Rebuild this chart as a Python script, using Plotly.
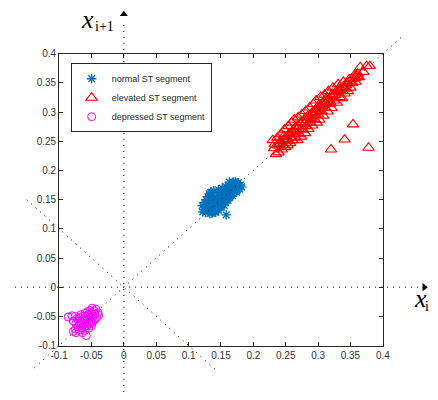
import plotly.graph_objects as go

# ---------------- data ----------------
normal_x = [0.121, 0.123, 0.125, 0.126, 0.128, 0.129, 0.130, 0.131, 0.133, 0.133,
            0.134, 0.135, 0.137, 0.137, 0.138, 0.139, 0.140, 0.141, 0.142, 0.143,
            0.144, 0.145, 0.146, 0.147, 0.148, 0.149, 0.150, 0.151, 0.152, 0.153,
            0.154, 0.155, 0.156, 0.157, 0.158, 0.158, 0.159, 0.160, 0.161, 0.162,
            0.163, 0.164, 0.165, 0.166, 0.167, 0.168, 0.169, 0.170, 0.171, 0.172,
            0.173, 0.174, 0.175, 0.176, 0.177, 0.178, 0.180, 0.182, 0.132, 0.135,
            0.137, 0.130, 0.142, 0.148, 0.153, 0.160, 0.165, 0.170,
            0.122, 0.127, 0.131, 0.136, 0.140, 0.144, 0.149, 0.155, 0.161, 0.168,
            0.174, 0.179, 0.134, 0.139, 0.146, 0.152, 0.157, 0.163]
normal_y = [0.140, 0.133, 0.145, 0.128, 0.138, 0.148, 0.132, 0.143, 0.126, 0.153,
            0.137, 0.147, 0.130, 0.156, 0.141, 0.151, 0.134, 0.145, 0.128, 0.155,
            0.139, 0.149, 0.132, 0.160, 0.143, 0.153, 0.137, 0.147, 0.157, 0.141,
            0.163, 0.151, 0.145, 0.167, 0.124, 0.156, 0.149, 0.170, 0.160, 0.153,
            0.174, 0.164, 0.157, 0.177, 0.168, 0.161, 0.180, 0.171, 0.164, 0.181,
            0.175, 0.167, 0.178, 0.170, 0.179, 0.174, 0.175, 0.172, 0.160, 0.163,
            0.156, 0.155, 0.136, 0.140, 0.145, 0.152, 0.160, 0.166,
            0.129, 0.150, 0.153, 0.127, 0.129, 0.133, 0.139, 0.140, 0.149, 0.157,
            0.163, 0.168, 0.162, 0.165, 0.167, 0.170, 0.173, 0.180]

elevated_x = [0.230, 0.232, 0.235, 0.237, 0.239, 0.241, 0.243, 0.244, 0.246, 0.248,
              0.249, 0.251, 0.253, 0.254, 0.256, 0.257, 0.259, 0.260, 0.262, 0.263,
              0.265, 0.266, 0.268, 0.269, 0.271, 0.272, 0.274, 0.275, 0.277, 0.278,
              0.280, 0.281, 0.282, 0.284, 0.285, 0.287, 0.288, 0.290, 0.291, 0.293,
              0.294, 0.296, 0.297, 0.298, 0.300, 0.301, 0.302, 0.304, 0.305, 0.307,
              0.308, 0.310, 0.311, 0.313, 0.315, 0.316, 0.318, 0.320, 0.321, 0.323,
              0.325, 0.327, 0.329, 0.331, 0.333, 0.335, 0.337, 0.339, 0.341, 0.343,
              0.346, 0.348, 0.350, 0.353, 0.356, 0.358, 0.361, 0.363, 0.365, 0.370,
              0.375, 0.380,
              0.233, 0.238, 0.242, 0.245, 0.247, 0.250, 0.252, 0.255, 0.258, 0.261,
              0.264, 0.267, 0.270, 0.273, 0.276, 0.279, 0.283, 0.286, 0.289, 0.292,
              0.295, 0.299, 0.303, 0.306, 0.309, 0.312, 0.314, 0.317, 0.319, 0.322,
              0.326, 0.330, 0.334, 0.338, 0.342, 0.345, 0.349, 0.352, 0.357, 0.360,
              0.320, 0.341, 0.354, 0.378]
elevated_y = [0.252, 0.238, 0.228, 0.256, 0.231, 0.246, 0.262, 0.236, 0.252, 0.270,
              0.240, 0.258, 0.243, 0.276, 0.264, 0.247, 0.282, 0.252, 0.270, 0.287,
              0.256, 0.275, 0.252, 0.291, 0.262, 0.281, 0.258, 0.296, 0.270, 0.287,
              0.264, 0.302, 0.276, 0.293, 0.271, 0.308, 0.282, 0.298, 0.277, 0.314,
              0.288, 0.304, 0.320, 0.282, 0.296, 0.312, 0.287, 0.326, 0.302, 0.316,
              0.294, 0.330, 0.308, 0.322, 0.301, 0.336, 0.314, 0.328, 0.307, 0.342,
              0.320, 0.334, 0.316, 0.348, 0.326, 0.340, 0.324, 0.352, 0.332, 0.346,
              0.336, 0.356, 0.342, 0.350, 0.363, 0.352, 0.366, 0.360, 0.377, 0.369,
              0.379, 0.379,
              0.245, 0.243, 0.250, 0.244, 0.259, 0.254, 0.250, 0.262, 0.257, 0.266,
              0.262, 0.270, 0.276, 0.271, 0.283, 0.280, 0.286, 0.292, 0.290, 0.300,
              0.296, 0.305, 0.310, 0.308, 0.318, 0.316, 0.325, 0.322, 0.317, 0.331,
              0.329, 0.338, 0.336, 0.343, 0.340, 0.349, 0.353, 0.357, 0.358, 0.362,
              0.236, 0.253, 0.279, 0.239]

depressed_x = [-0.086, -0.080, -0.075, -0.072, -0.078, -0.074, -0.070, -0.068, -0.066, -0.063,
               -0.062, -0.060, -0.058, -0.056, -0.055, -0.053, -0.052, -0.050, -0.049, -0.048,
               -0.046, -0.045, -0.043, -0.042, -0.040, -0.039, -0.044, -0.047, -0.051, -0.055,
               -0.059, -0.063, -0.067, -0.071, -0.075, -0.078, -0.074, -0.069, -0.065, -0.061,
               -0.057, -0.053, -0.049, -0.058, -0.064, -0.060, -0.068, -0.064, -0.054, -0.050]
depressed_y = [-0.051, -0.049, -0.050, -0.054, -0.058, -0.062, -0.058, -0.052, -0.047, -0.050,
               -0.055, -0.045, -0.050, -0.042, -0.047, -0.052, -0.040, -0.045, -0.036, -0.050,
               -0.041, -0.046, -0.038, -0.052, -0.044, -0.048, -0.055, -0.058, -0.057, -0.060,
               -0.062, -0.064, -0.066, -0.068, -0.072, -0.076, -0.078, -0.074, -0.070, -0.068,
               -0.066, -0.063, -0.061, -0.083, -0.078, -0.074, -0.062, -0.058, -0.070, -0.066]

tick_vals = [-0.1, -0.05, 0, 0.05, 0.1, 0.15, 0.2, 0.25, 0.3, 0.35, 0.4]
tick_text = ["-0.1", "-0.05", "0", "0.05", "0.1", "0.15", "0.2", "0.25", "0.3", "0.35", "0.4"]
axis_range = [-0.1, 0.4]

# guide lines (dotted), in data units
diag_x = [-0.138, 0.43]
diag_y = [-0.138, 0.43]
anti_x = [-0.15, 0.145]
anti_y = [0.15, -0.145]
vert_x = [0, 0]
vert_y = [-0.19, 0.458]
horz_x = [-0.168, 0.464]
horz_y = [0, 0]

# ---------------- layout geometry ----------------
W, H = 438, 400
box_l, box_r, box_t, box_b = 52, 388, 49.3, 350   # pixel edges of the axes box
dx0, dx1 = box_l / W, box_r / W
dy0, dy1 = 1 - box_b / H, 1 - box_t / H

def full_range(d0, d1, r):
    s = (r[1] - r[0]) / (d1 - d0)
    return [r[0] - d0 * s, r[1] + (1 - d1) * s]

x2_range = full_range(dx0, dx1, axis_range)
y2_range = full_range(dy0, dy1, axis_range)

BLUE = "#0072BD"
fig = go.Figure()

fig.add_trace(go.Scatter(x=normal_x, y=normal_y, mode="markers", name="normal ST segment",
                         marker=dict(symbol="asterisk-open", size=8,
                                     line=dict(color=BLUE, width=1.3), color=BLUE)))
fig.add_trace(go.Scatter(x=elevated_x, y=elevated_y, mode="markers", name="elevated ST segment",
                         marker=dict(symbol="triangle-up-open", size=10,
                                     line=dict(color="#FF0000", width=1.1), color="#FF0000")))
fig.add_trace(go.Scatter(x=depressed_x, y=depressed_y, mode="markers", name="depressed ST segment",
                         marker=dict(symbol="circle-open", size=8,
                                     line=dict(color="#FF00FF", width=1), color="#FF00FF")))

dot = dict(color="black", width=1, dash="1px,5px")
for lx, ly in [(diag_x, diag_y), (anti_x, anti_y), (vert_x, vert_y), (horz_x, horz_y)]:
    fig.add_trace(go.Scatter(x=lx, y=ly, mode="lines", line=dot, showlegend=False,
                             xaxis="x2", yaxis="y2", hoverinfo="skip"))

# arrow heads at the ends of the two coordinate axes
fig.add_trace(go.Scatter(x=[vert_x[1], horz_x[1]], y=[vert_y[1] + 0.01, horz_y[1]],
                         mode="markers", showlegend=False, xaxis="x2", yaxis="y2",
                         marker=dict(symbol=["triangle-up", "triangle-right"], size=7, color="black"),
                         hoverinfo="skip"))

axis_common = dict(range=axis_range, tickvals=tick_vals, ticktext=tick_text,
                   ticks="inside", ticklen=4, tickwidth=1, tickcolor="#262626",
                   showline=True, linecolor="#262626", linewidth=1, mirror="ticks",
                   showgrid=False, zeroline=False,
                   tickfont=dict(family="Liberation Sans", size=10, color="#333333"))

fig.update_layout(
    width=W, height=H, autosize=False,
    margin=dict(l=0, r=0, t=0, b=0),
    paper_bgcolor="white", plot_bgcolor="rgba(0,0,0,0)",
    xaxis=dict(domain=[dx0, dx1], anchor="y", **axis_common),
    yaxis=dict(domain=[dy0, dy1], anchor="x", **axis_common),
    xaxis2=dict(domain=[0, 1], range=x2_range, anchor="y2", visible=False),
    yaxis2=dict(domain=[0, 1], range=y2_range, anchor="x2", visible=False),
    legend=dict(x=64 / W, y=1 - 59 / H, xanchor="left", yanchor="top",
                bgcolor="white", bordercolor="#262626", borderwidth=1,
                itemwidth=30, tracegroupgap=0,
                font=dict(family="Liberation Sans", size=9, color="#262626")),
    showlegend=True,
)

fig.add_annotation(text="<i>x</i>", xref="paper", yref="paper", x=73 / W, y=1 - 14 / H,
                   xanchor="left", yanchor="middle", showarrow=False,
                   font=dict(family="Liberation Serif", size=26, color="black"))
fig.add_annotation(text="i+1", xref="paper", yref="paper", x=87 / W, y=1 - 21 / H,
                   xanchor="left", yanchor="middle", showarrow=False,
                   font=dict(family="Liberation Serif", size=14, color="black"))
fig.add_annotation(text="<i>x</i>", xref="paper", yref="paper", x=418 / W, y=1 - 302 / H,
                   xanchor="left", yanchor="middle", showarrow=False,
                   font=dict(family="Liberation Serif", size=26, color="black"))
fig.add_annotation(text="i", xref="paper", yref="paper", x=430 / W, y=1 - 310 / H,
                   xanchor="left", yanchor="middle", showarrow=False,
                   font=dict(family="Liberation Serif", size=14, color="black"))

fig.write_html("out.html", config={"displayModeBar": False},
               post_script="document.body.style.margin='0';document.body.style.padding='0';")
